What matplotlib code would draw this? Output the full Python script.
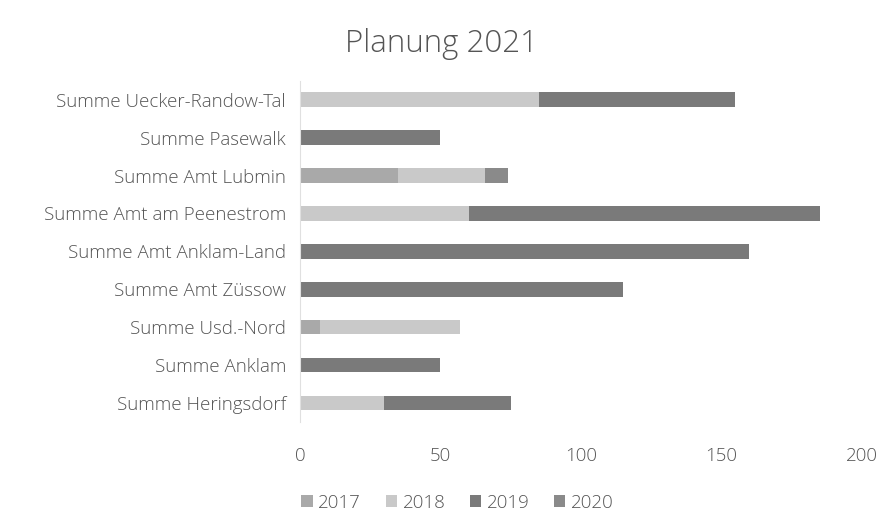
import matplotlib
matplotlib.use("Agg")
import matplotlib.pyplot as plt
import numpy as np

plt.rcParams['font.family'] = ['Open Sans', 'DejaVu Sans']
plt.rcParams['font.weight'] = 'light'

categories = ['Summe Uecker-Randow-Tal', 'Summe Pasewalk', 'Summe Amt Lubmin',
              'Summe Amt am Peenestrom', 'Summe Amt Anklam-Land', 'Summe Amt Züssow',
              'Summe Usd.-Nord', 'Summe Anklam', 'Summe Heringsdorf']
years = ['2017', '2018', '2019', '2020']
v2017 = [0, 0, 35, 0, 0, 0, 7, 0, 0]
v2018 = [85, 0, 31, 60, 0, 0, 50, 0, 30]
v2019 = [70, 50, 0, 125, 160, 115, 0, 50, 45]
v2020 = [0, 0, 8, 0, 0, 0, 0, 0, 0]
colors = ['#a9a9a9', '#c9c9c9', '#7a7a7a', '#8a8a8a']
txt = '#555555'

fig = plt.figure(figsize=(8.83, 5.11), dpi=100)
ax = fig.add_axes([0.3397, 0.174, 0.6363, 0.668])

y = np.arange(len(categories))[::-1]
left = np.zeros(len(categories))
for name, vals, c in zip(years, [v2017, v2018, v2019, v2020], colors):
    vals = np.array(vals, dtype=float)
    ax.barh(y, vals, left=left, height=0.38, color=c, label=name)
    left += vals

ax.set_yticks(y)
ax.set_yticklabels(categories)
ax.set_ylim(-0.5, len(categories) - 0.5)
ax.set_xlim(0, 200)
ax.set_xticks([0, 50, 100, 150, 200])
ax.tick_params(axis='both', length=0, labelsize=13.5, colors=txt)
ax.tick_params(axis='x', pad=18)
ax.tick_params(axis='y', pad=10)
for s in ['top', 'right', 'bottom']:
    ax.spines[s].set_visible(False)
ax.spines['left'].set_color('#e0e0e0')

fig.suptitle('Planung 2021', y=0.945, fontsize=22.5, color=txt, fontweight='light')
fig.legend(loc='lower center', ncol=4, frameon=False, bbox_to_anchor=(0.518, -0.035),
           fontsize=13.5, labelcolor=txt, handlelength=0.6, handleheight=0.6,
           handletextpad=0.3, columnspacing=1.3)

fig.savefig('out.png', dpi=100)
